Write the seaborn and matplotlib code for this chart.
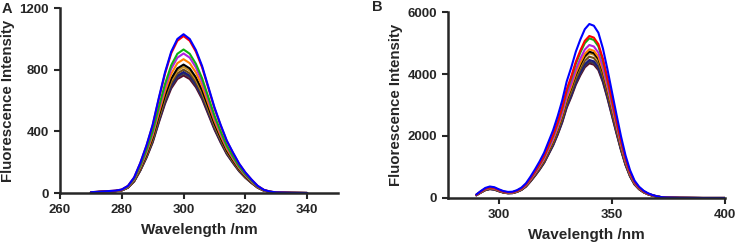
import numpy as np
import pandas as pd
import matplotlib
matplotlib.use("Agg")
import matplotlib.pyplot as plt
import seaborn as sns

# Panel A: excitation 280 nm spectrum (blue curve shape, normalised)
wl_a = [270, 274, 278, 280, 282, 284, 286, 288, 290, 292, 294, 296, 298, 300,
        302, 304, 306, 308, 310, 312, 314, 316, 318, 320, 322, 324, 326, 328,
        330, 335, 340]
shape_a = [0.005, 0.01, 0.015, 0.022, 0.045, 0.098, 0.19, 0.30, 0.43, 0.60,
           0.76, 0.89, 0.97, 1.0, 0.97, 0.90, 0.80, 0.67, 0.54, 0.43, 0.33,
           0.255, 0.185, 0.13, 0.085, 0.045, 0.02, 0.009, 0.004, 0.001, 0.0]
peaks_a = [762, 775, 785, 800, 818, 833, 868, 905, 931, 1018, 1030]

# Panel B
wl_b = [290, 292, 294, 296, 298, 300, 302, 304, 306, 308, 310, 312, 314, 316,
        318, 320, 322, 324, 326, 328, 330, 332, 334, 336, 338, 340, 342, 344,
        346, 348, 350, 352, 354, 356, 358, 360, 362, 364, 366, 368, 370, 372,
        374, 380, 390, 400]
shape_b = [0.02, 0.04, 0.058, 0.066, 0.062, 0.05, 0.04, 0.035, 0.036, 0.045,
           0.06, 0.085, 0.123, 0.165, 0.21, 0.26, 0.325, 0.39, 0.47, 0.56,
           0.67, 0.75, 0.84, 0.91, 0.97, 1.0, 0.99, 0.95, 0.86, 0.74, 0.61,
           0.48, 0.355, 0.245, 0.16, 0.10, 0.065, 0.042, 0.027, 0.017, 0.01,
           0.005, 0.003, 0.001, 0.0, 0.0]
peaks_b = [4345, 4397, 4452, 4560, 4668, 4720, 4797, 4936, 5150, 5226, 5613]

# bottom curve first, blue on top
colors = ["#5a0a2a", "#3a3a4a", "#1a1a80", "#6b4a1a", "#c89020", "#000000",
          "#ff8000", "#b020e0", "#10b010", "#ff0000", "#0000ff"]
labels = [f"c{i}" for i in range(len(colors))]


def make_df(wl, shape, peaks):
    rows = []
    for lab, pk in zip(labels, peaks):
        for w, s in zip(wl, shape):
            rows.append({"wl": w, "I": s * pk, "curve": lab})
    return pd.DataFrame(rows)


df_a = make_df(wl_a, shape_a, peaks_a)
df_b = make_df(wl_b, shape_b, peaks_b)

sns.set_style("ticks")
plt.rcParams["font.family"] = ["Liberation Sans", "DejaVu Sans"]
plt.rcParams["font.weight"] = "bold"

fig = plt.figure(figsize=(7.37, 2.43), dpi=100)
ax1 = fig.add_axes([60 / 737, 1 - 193 / 243, 278 / 737, 185 / 243])
ax2 = fig.add_axes([448 / 737, 1 - 198 / 243, 277 / 737, 186 / 243])

pal = dict(zip(labels, colors))
for ax, df in [(ax1, df_a), (ax2, df_b)]:
    sns.lineplot(data=df, x="wl", y="I", hue="curve", palette=pal,
                 linewidth=1.5, legend=False, ax=ax)
    sns.despine(ax=ax)
    for sp in ["left", "bottom"]:
        ax.spines[sp].set_linewidth(1.8)
    ax.tick_params(width=1.5, length=4, labelsize=9.5, pad=4)
    ax.set_xlabel("Wavelength /nm", fontsize=11, fontweight="bold", labelpad=5)
    ax.set_ylabel("Fluorescence Intensity", fontsize=10.8, fontweight="bold",
                  labelpad=3)

ax1.set_xlim(260, 350)
ax1.set_ylim(0, 1200)
ax1.set_xticks([260, 280, 300, 320, 340])
ax1.set_yticks([0, 400, 800, 1200])

ax2.set_xlim(277.5, 400)
ax2.set_ylim(0, 6000)
ax2.set_xticks([300, 350, 400])
ax2.set_yticks([0, 2000, 4000, 6000])

for ax in (ax1, ax2):
    for t in ax.get_xticklabels() + ax.get_yticklabels():
        t.set_fontweight("bold")

fig.text(2 / 737, 1 - 9 / 243, "A", fontsize=10.5, fontweight="bold",
         va="center", ha="left")
fig.text(372 / 737, 1 - 7 / 243, "B", fontsize=10.5, fontweight="bold",
         va="center", ha="left")

fig.savefig("out.png", dpi=100)
